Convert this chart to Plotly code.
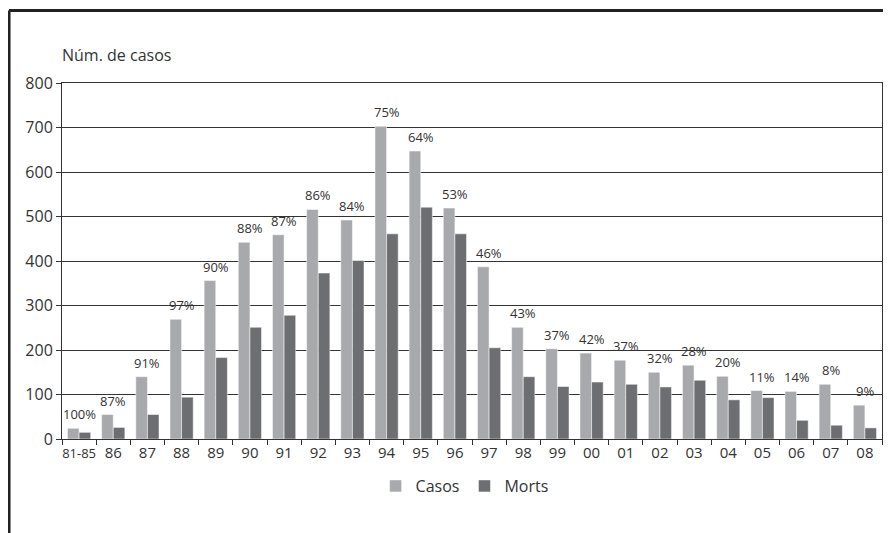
import plotly.graph_objects as go

categories = ["81-85", "86", "87", "88", "89", "90", "91", "92", "93", "94", "95", "96",
              "97", "98", "99", "00", "01", "02", "03", "04", "05", "06", "07", "08"]
casos = [24, 55, 140, 269, 356, 442, 459, 516, 492, 703, 647, 519,
         387, 251, 203, 193, 177, 150, 166, 141, 109, 107, 123, 76]
morts = [15, 26, 55, 94, 183, 251, 278, 373, 401, 461, 521, 461,
         205, 140, 118, 128, 123, 117, 132, 88, 93, 42, 31, 25]
percent_labels = ["100%", "87%", "91%", "97%", "90%", "88%", "87%", "86%", "84%", "75%", "64%", "53%",
                  "46%", "43%", "37%", "42%", "37%", "32%", "28%", "20%", "11%", "14%", "8%", "9%"]

FONT = "Open Sans"
TXT = "#333333"

fig = go.Figure()
fig.add_trace(go.Bar(x=categories, y=casos, name="Casos",
                     marker=dict(color="#A7A9AC", line=dict(color="white", width=0.5))))
fig.add_trace(go.Bar(x=categories, y=morts, name="Morts",
                     marker=dict(color="#6D6E71", line=dict(color="white", width=0.5))))

annotations = []
for i, (v, t) in enumerate(zip(casos, percent_labels)):
    annotations.append(dict(x=i, y=v, xref="x", yref="y", text=t, showarrow=False,
                            yanchor="bottom", yshift=3,
                            font=dict(family=FONT, size=13, color=TXT)))
annotations.append(dict(x=0, y=1.079, xref="paper", yref="paper", text="Núm. de casos",
                        showarrow=False, xanchor="left", yanchor="middle", xshift=-2,
                        font=dict(family=FONT, size=16, color=TXT)))

shapes = [
    dict(type="line", xref="paper", yref="paper", x0=-0.0646, x1=1.05, y0=1.204, y1=1.204,
         line=dict(color="#222222", width=3)),
    dict(type="line", xref="paper", yref="paper", x0=-0.0646, x1=-0.0646, y0=1.204, y1=-0.3,
         line=dict(color="#222222", width=3)),
]

ticktext = ['<span style="font-size:13px">%s</span>' % c if "-" in c else c for c in categories]

fig.update_layout(
    width=891, height=533,
    margin=dict(l=54, r=17, t=75, b=102),
    paper_bgcolor="white", plot_bgcolor="white",
    barmode="group", bargap=0.32, bargroupgap=0,
    font=dict(family=FONT, size=16, color=TXT),
    showlegend=True,
    legend=dict(orientation="h", x=0.491, xanchor="center", y=-0.132, yanchor="middle",
                font=dict(family=FONT, size=16, color=TXT), itemwidth=30,
                traceorder="normal"),
    annotations=annotations,
    shapes=shapes,
)
fig.update_xaxes(type="category", range=[-0.5, len(categories) - 0.5],
                 tickvals=categories, ticktext=ticktext, tickangle=0,
                 showline=True, linecolor="#333333", linewidth=1, mirror=True,
                 ticks="outside", tickson="boundaries", ticklen=5, tickcolor="#333333",
                 tickfont=dict(family=FONT, size=15, color=TXT), showgrid=False)
fig.update_yaxes(range=[0, 800], dtick=100, showline=True, linecolor="#333333", linewidth=1,
                 mirror=True, ticks="outside", ticklen=5, tickcolor="#333333",
                 showgrid=True, gridcolor="#333333", gridwidth=1,
                 tickfont=dict(family=FONT, size=16, color=TXT), zeroline=False)

fig.write_html("out.html")
